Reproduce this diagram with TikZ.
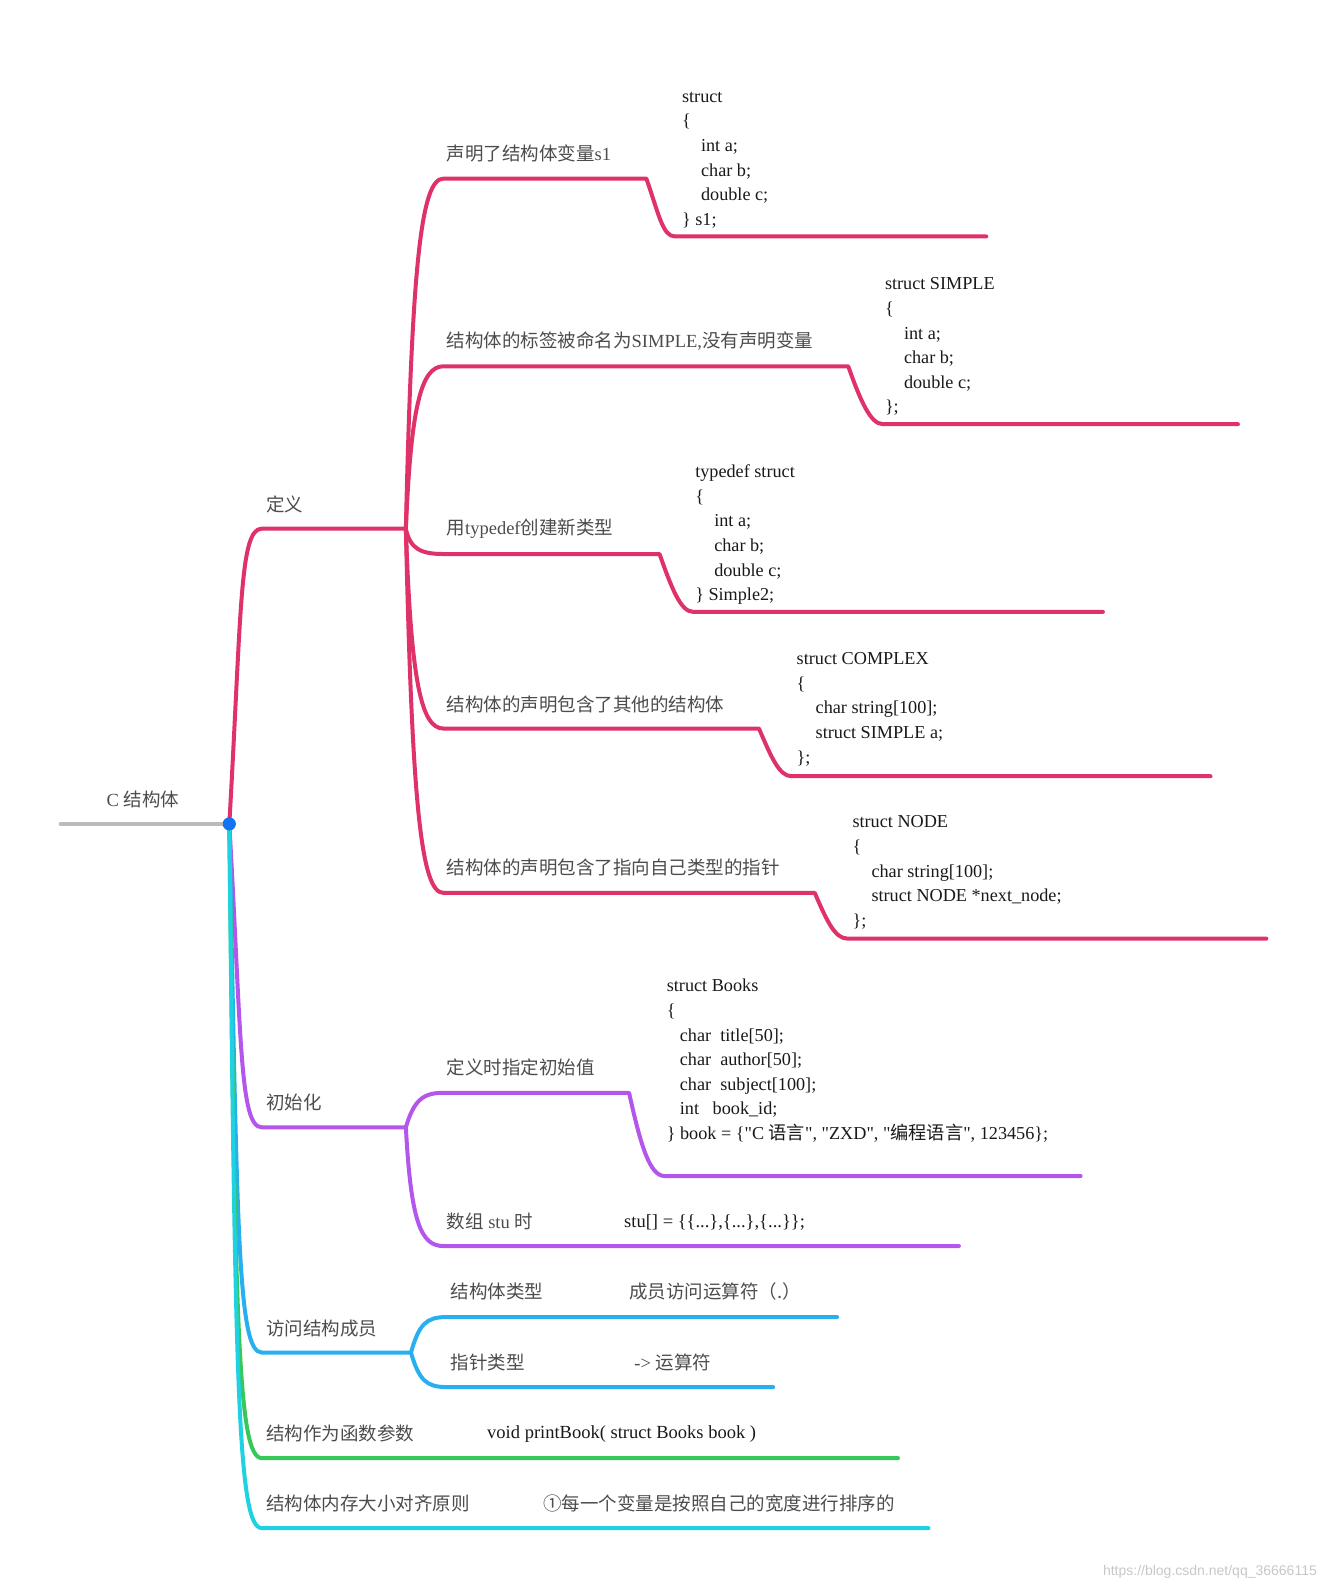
\documentclass[tikz,border=0pt]{standalone}
\usepackage{fontspec}
\setmainfont{Liberation Serif}
\newfontfamily\cjk{Noto Sans CJK SC}
\newfontfamily\wmfont{Liberation Sans}
\definecolor{c-def}{RGB}{222,50,105}
\definecolor{c-init}{RGB}{180,85,235}
\definecolor{c-acc}{RGB}{40,175,240}
\definecolor{c-par}{RGB}{55,200,90}
\definecolor{c-mem}{RGB}{30,210,225}
\definecolor{c-root}{RGB}{187,187,187}
\definecolor{c-dot}{RGB}{20,115,240}
\newcommand\cind{\hspace*{19pt}}
\newcommand\bind{\hspace*{13pt}}
\newcommand\qt{\textquotedbl}
\tikzset{
  br/.style={line width=4pt,line cap=round,line join=round},
  br-def/.style={br,draw=c-def},
  br-init/.style={br,draw=c-init},
  br-acc/.style={br,draw=c-acc},
  br-par/.style={br,draw=c-par},
  br-mem/.style={br,draw=c-mem},
  lbl/.style={anchor=west,inner sep=0pt,font=\fontsize{18.5}{22}\selectfont,text=black!70},
  code/.style={anchor=base west,inner sep=0pt,align=left,font=\fontsize{18.2}{24.6}\selectfont,text=black!90},
}

\begin{document}
\begin{tikzpicture}[x=1.0145pt,y=-1.0145pt]
  \useasboundingbox (0,0) rectangle (1307,1568);

  % corners of the branches
  \coordinate (root)   at (226,812);
  \coordinate (def)    at (258,521);  \coordinate (def-e)  at (400,521);
  \coordinate (init)   at (258,1111); \coordinate (init-e) at (400,1111);
  \coordinate (acc)    at (258,1333); \coordinate (acc-e)  at (405,1333);
  \coordinate (par)    at (258,1437); \coordinate (par-e)  at (885,1437);
  \coordinate (mem)    at (258,1506); \coordinate (mem-e)  at (915,1506);

  \coordinate (s1-a) at (437,176);  \coordinate (s1-b) at (637,176);
  \coordinate (s1-c) at (665,233);  \coordinate (s1-d) at (972,233);
  \coordinate (sim-a) at (437,361); \coordinate (sim-b) at (836,361);
  \coordinate (sim-c) at (870,418); \coordinate (sim-d) at (1220,418);
  \coordinate (td-a) at (437,546);  \coordinate (td-b) at (650,546);
  \coordinate (td-c) at (683,603);  \coordinate (td-d) at (1087,603);
  \coordinate (cx-a) at (437,718);  \coordinate (cx-b) at (748,718);
  \coordinate (cx-c) at (780,765);  \coordinate (cx-d) at (1193,765);
  \coordinate (nd-a) at (437,880);  \coordinate (nd-b) at (803,880);
  \coordinate (nd-c) at (835,925);  \coordinate (nd-d) at (1248,925);

  \coordinate (bk-a) at (437,1077); \coordinate (bk-b) at (620,1077);
  \coordinate (bk-c) at (655,1159); \coordinate (bk-d) at (1065,1159);
  \coordinate (st-a) at (437,1228); \coordinate (st-b) at (945,1228);

  \coordinate (ty-a) at (440,1298); \coordinate (ty-b) at (825,1298);
  \coordinate (pt-a) at (440,1367); \coordinate (pt-b) at (762,1367);

  % 定义
  \draw[br-def] (root) .. controls +(12,-210) and +(-22,0) .. (def) -- (def-e);
  \draw[br-def] (def-e) .. controls +(6,-260) and +(-22,0) .. (s1-a) -- (s1-b)
    .. controls +(12,34) and +(-12,0) .. (s1-c) -- (s1-d);
  \draw[br-def] (def-e) .. controls +(5,-120) and +(-22,0) .. (sim-a) -- (sim-b)
    .. controls +(12,34) and +(-12,0) .. (sim-c) -- (sim-d);
  \draw[br-def] (def-e) .. controls +(4,20) and +(-22,0) .. (td-a) -- (td-b)
    .. controls +(12,34) and +(-12,0) .. (td-c) -- (td-d);
  \draw[br-def] (def-e) .. controls +(5,150) and +(-22,0) .. (cx-a) -- (cx-b)
    .. controls +(12,28) and +(-12,0) .. (cx-c) -- (cx-d);
  \draw[br-def] (def-e) .. controls +(6,270) and +(-22,0) .. (nd-a) -- (nd-b)
    .. controls +(12,28) and +(-12,0) .. (nd-c) -- (nd-d);

  % 初始化
  \draw[br-init] (root) .. controls +(12,210) and +(-22,0) .. (init) -- (init-e);
  \draw[br-init] (init-e) .. controls +(8,-27) and +(-20,0) .. (bk-a) -- (bk-b)
    .. controls +(12,55) and +(-14,0) .. (bk-c) -- (bk-d);
  \draw[br-init] (init-e) .. controls +(5,94) and +(-22,0) .. (st-a) -- (st-b);

  % 访问结构成员
  \draw[br-acc] (root) .. controls +(8,400) and +(-24,0) .. (acc) -- (acc-e);
  \draw[br-acc] (acc-e) .. controls +(8,-28) and +(-20,0) .. (ty-a) -- (ty-b);
  \draw[br-acc] (acc-e) .. controls +(8,27) and +(-20,0) .. (pt-a) -- (pt-b);

  % 函数参数, 内存对齐
  \draw[br-par] (root) .. controls +(6,490) and +(-24,0) .. (par) -- (par-e);
  \draw[br-mem] (root) .. controls +(6,550) and +(-24,0) .. (mem) -- (mem-e);

  % root
  \draw[c-root,line width=4.5pt,line cap=round] (60,812) -- (root);
  \fill[c-dot] (root) circle (6.5);

  % labels
  \node[lbl] (l-root) at (105,788) {C {\cjk 结构体}};
  \node[lbl] (l-def)  at (262,497) {\cjk 定义};
  \node[lbl] (l-s1)   at (440,151) {{\cjk 声明了结构体变量}s1};
  \node[lbl] (l-sim)  at (440,336) {{\cjk 结构体的标签被命名为}SIMPLE,{\cjk 没有声明变量}};
  \node[lbl] (l-td)   at (440,521) {{\cjk 用}typedef{\cjk 创建新类型}};
  \node[lbl] (l-cx)   at (440,694) {\cjk 结构体的声明包含了其他的结构体};
  \node[lbl] (l-nd)   at (440,855) {\cjk 结构体的声明包含了指向自己类型的指针};
  \node[lbl] (l-init) at (262,1087) {\cjk 初始化};
  \node[lbl] (l-bk)   at (440,1052) {\cjk 定义时指定初始值};
  \node[lbl] (l-st)   at (440,1204) {{\cjk 数组} stu {\cjk 时}};
  \node[lbl] (l-acc)  at (262,1309) {\cjk 访问结构成员};
  \node[lbl] (l-ty)   at (444,1273) {\cjk 结构体类型};
  \node[lbl] (l-tyv)  at (620,1273) {\cjk 成员访问运算符（.）};
  \node[lbl] (l-pt)   at (444,1343) {\cjk 指针类型};
  \node[lbl] (l-ptv)  at (625,1343) {-> {\cjk 运算符}};
  \node[lbl] (l-par)  at (262,1413) {\cjk 结构作为函数参数};
  \node[lbl] (l-mem)  at (262,1482) {\cjk 结构体内存大小对齐原则};
  \node[lbl] (l-memv) at (535,1482) {\cjk ①每一个变量是按照自己的宽度进行排序的};

  % code (anchored at the baseline of the last line)
  \node[code] (c-s1) at (672,222) {struct\\ \{\\ \cind int a;\\ \cind char b;\\ \cind double c;\\ \} s1;};
  \node[code] (c-sim) at (872,407) {struct SIMPLE\\ \{\\ \cind int a;\\ \cind char b;\\ \cind double c;\\ \};};
  \node[code] (c-td) at (685,592) {typedef struct\\ \{\\ \cind int a;\\ \cind char b;\\ \cind double c;\\ \} Simple2;};
  \node[code] (c-cx) at (785,752) {struct COMPLEX\\ \{\\ \cind char string[100];\\ \cind struct SIMPLE a;\\ \};};
  \node[code] (c-nd) at (840,913) {struct NODE\\ \{\\ \cind char string[100];\\ \cind struct NODE *next\_node;\\ \};};
  \node[code] (c-bk) at (657,1123) {struct Books\\ \{\\ \bind char\ \ title[50];\\ \bind char\ \ author[50];\\ \bind char\ \ subject[100];\\ \bind int\ \ \ book\_id;\\ \} book = \{\qt C {\cjk 语言}\qt, \qt ZXD\qt, \qt{\cjk 编程语言}\qt, 123456\};};
  \node[lbl,text=black!90] (c-st)  at (615,1205) {stu[] = \{\{...\},\{...\},\{...\}\};};
  \node[lbl,text=black!90] (c-par) at (480,1413) {void printBook( struct Books book )};

  \node[anchor=east,inner sep=0pt,font=\wmfont\fontsize{14}{16}\selectfont,text=black!22] (wm) at (1298,1549) {https://blog.csdn.net/qq\_36666115};
\end{tikzpicture}
\end{document}
